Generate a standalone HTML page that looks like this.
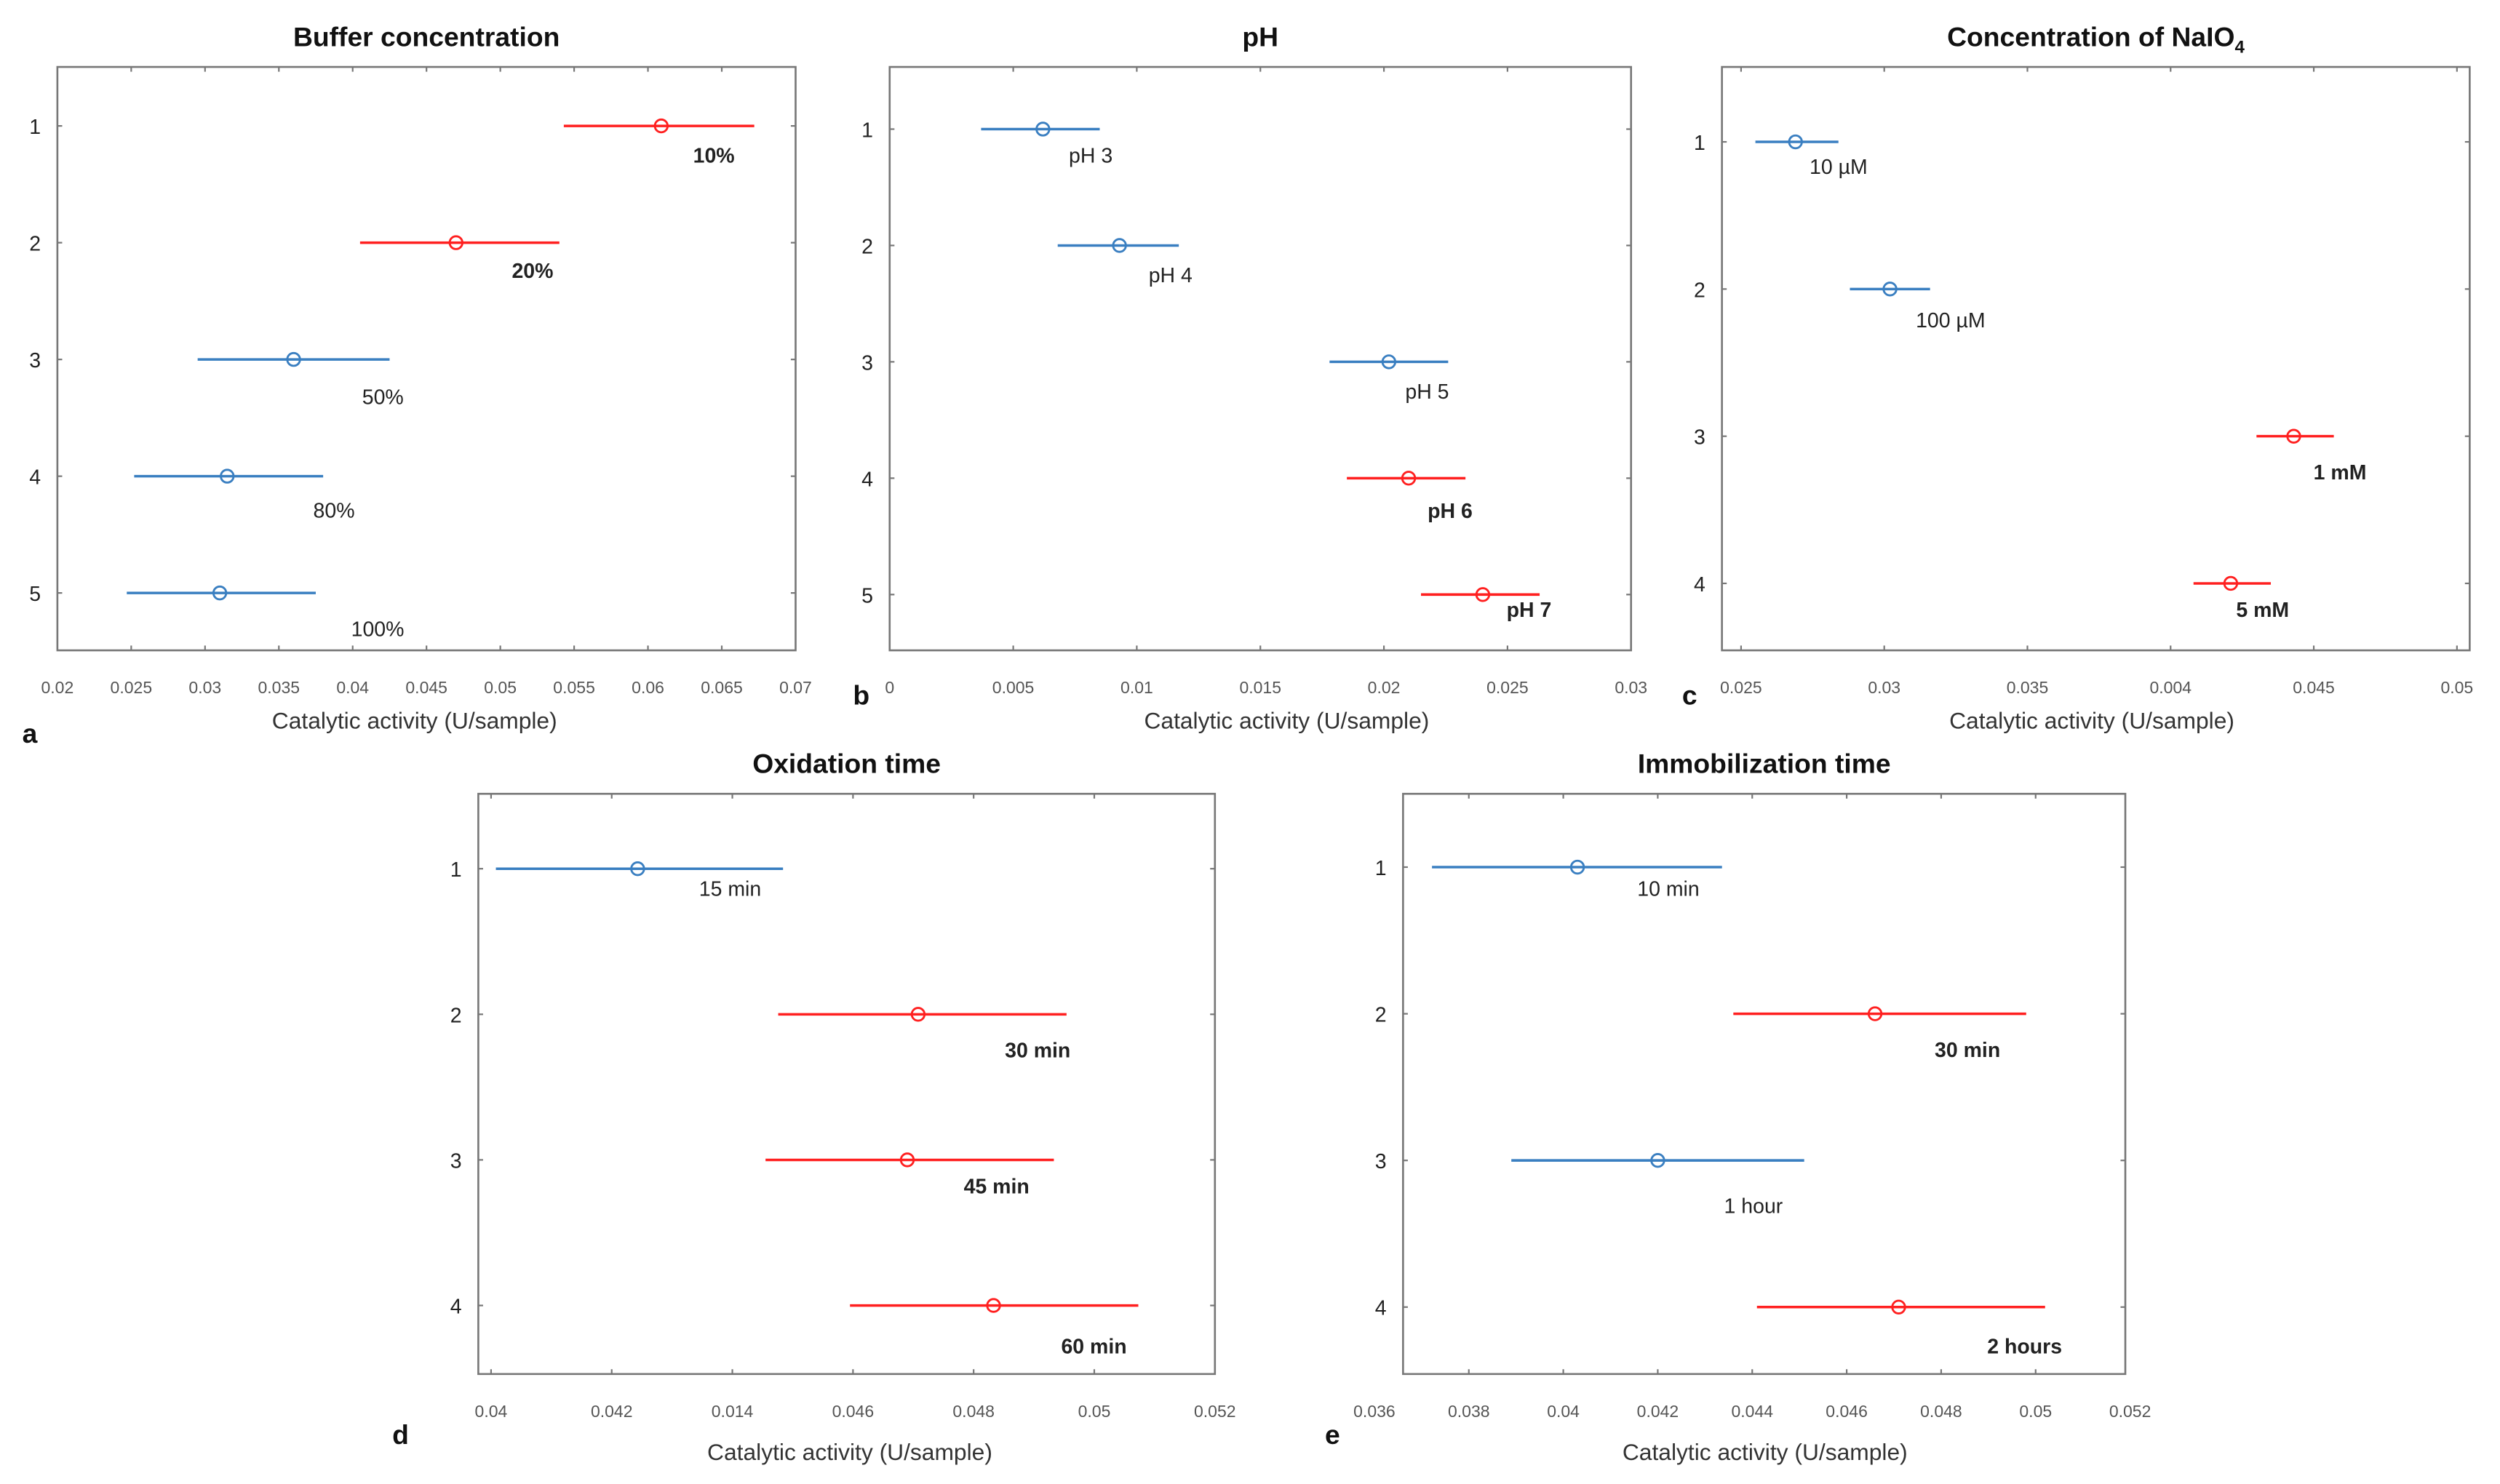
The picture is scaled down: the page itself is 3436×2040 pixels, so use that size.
<!DOCTYPE html>
<html><head><meta charset="utf-8"><style>
html,body{margin:0;padding:0;background:#fff;}
svg{display:block;font-family:"Liberation Sans",sans-serif;}
</style></head><body>
<svg id="chart" width="3436" height="2040" viewBox="0 0 1568 931" preserveAspectRatio="none" xmlns="http://www.w3.org/2000/svg"></svg>
<script>
// Panel a
const aCats=["1","2","3","4","5"];
const aMean=[0.0609,0.047,0.036,0.0315,0.031];
const aLo=[0.0543,0.0405,0.0295,0.0252,0.0247];
const aHi=[0.0672,0.054,0.0425,0.038,0.0375];
const aLabels=["10%","20%","50%","80%","100%"];
const aRed=[true,true,false,false,false];
const aTicks=["0.02","0.025","0.03","0.035","0.04","0.045","0.05","0.055","0.06","0.065","0.07"];
// Panel b
const bCats=["1","2","3","4","5"];
const bMean=[0.0062,0.0093,0.0202,0.021,0.024];
const bLo=[0.0037,0.0068,0.0178,0.0185,0.0215];
const bHi=[0.0085,0.0117,0.0226,0.0233,0.0263];
const bLabels=["pH 3","pH 4","pH 5","pH 6","pH 7"];
const bRed=[false,false,false,true,true];
const bTicks=["0","0.005","0.01","0.015","0.02","0.025","0.03"];
// Panel c
const cCats=["1","2","3","4"];
const cMean=[0.0269,0.0302,0.0443,0.0421];
const cLo=[0.0255,0.0288,0.043,0.0408];
const cHi=[0.0284,0.0316,0.0457,0.0435];
const cLabels=["10 µM","100 µM","1 mM","5 mM"];
const cRed=[false,false,true,true];
const cTicks=["0.025","0.03","0.035","0.004","0.045","0.05"];
// Panel d
const dCats=["1","2","3","4"];
const dMean=[0.04243,0.04708,0.0469,0.04833];
const dLo=[0.04008,0.04476,0.04455,0.04595];
const dHi=[0.04484,0.04954,0.04933,0.05073];
const dLabels=["15 min","30 min","45 min","60 min"];
const dRed=[false,true,true,true];
const dTicks=["0.04","0.042","0.014","0.046","0.048","0.05","0.052"];
// Panel e
const eCats=["1","2","3","4"];
const eMean=[0.0403,0.0466,0.0420,0.0471];
const eLo=[0.03722,0.0436,0.0389,0.0441];
const eHi=[0.04336,0.0498,0.0451,0.0502];
const eLabels=["10 min","30 min","1 hour","2 hours"];
const eRed=[false,true,false,true];
const eTicks=["0.036","0.038","0.04","0.042","0.044","0.046","0.048","0.05","0.052"];

const NS="http://www.w3.org/2000/svg";
const svg=document.getElementById('chart');
function mk(tag,attrs,parent,text){const e=document.createElementNS(NS,tag);for(const k in attrs)e.setAttribute(k,attrs[k]);if(text!==undefined)e.textContent=text;(parent||svg).appendChild(e);return e;}

function panel(cfg){
  const g=mk('g',{});
  
  
  const xs=v=>cfg.x0px+(v-cfg.xmin)/(cfg.xmax-cfg.xmin)*(cfg.x1px-cfg.x0px);
  const ys=i=>cfg.yFirst+i*(cfg.yLast-cfg.yFirst)/(cfg.cats.length-1);
  const t=mk('text',{x:(cfg.L+cfg.R)/2,y:cfg.T-13,'text-anchor':'middle','font-size':17,'font-weight':'bold',fill:'#111'},g,cfg.title);
  
  
  if(cfg.sub){mk('tspan',{'font-size':11,dy:4},t,cfg.sub);}
  const f=mk('rect',{x:cfg.L,y:cfg.T,width:cfg.R-cfg.L,height:cfg.B-cfg.T,fill:'none',stroke:'#777','stroke-width':1.2},g);
  
  
  cfg.ticks.forEach((lab,i)=>{
    const v=cfg.xmin+i*(cfg.xmax-cfg.xmin)/(cfg.ticks.length-1);
    const x=xs(v);
    if(x>cfg.L+1&&x<cfg.R-1){mk('line',{x1:x,x2:x,y1:cfg.B,y2:cfg.B-3,stroke:'#777'},g);mk('line',{x1:x,x2:x,y1:cfg.T,y2:cfg.T+3,stroke:'#777'},g);}
    const tl=mk('text',{x:x,y:cfg.B+27,'text-anchor':'middle','font-size':10.5,fill:'#555'},g,lab);
    
    
  });
  cfg.cats.forEach((c,i)=>{
    const y=ys(i);
    mk('line',{x1:cfg.L,x2:cfg.L+3,y1:y,y2:y,stroke:'#777'},g);
    mk('line',{x1:cfg.R,x2:cfg.R-3,y1:y,y2:y,stroke:'#777'},g);
    const yl=mk('text',{x:cfg.L-14,y:y+5,'text-anchor':'middle','font-size':13,fill:'#222'},g,c);
    
    
    const col=cfg.red[i]?'#ff2020':'#3a7fc1';
    const ln=mk('line',{x1:xs(cfg.lo[i]),x2:xs(cfg.hi[i]),y1:y,y2:y,stroke:col,'stroke-width':1.6},g);
    
    
    const pt=mk('circle',{cx:xs(cfg.mean[i]),cy:y,r:4,fill:'none',stroke:col,'stroke-width':1.3},g);
    
    
    const lb=mk('text',{x:xs(cfg.mean[i])+cfg.lblDx[i],y:y+cfg.lblDy[i]+5,'text-anchor':'middle','font-size':13,'font-weight':cfg.red[i]?'bold':'normal',fill:'#222'},g,cfg.labels[i]);
    
    
  });
  const ax=mk('text',{x:cfg.axX,y:cfg.axY,'text-anchor':'middle','font-size':14.5,fill:'#333'},g,'Catalytic activity (U/sample)');
  
  
  const le=mk('text',{x:cfg.letX,y:cfg.letY,'font-size':17,'font-weight':'bold',fill:'#111'},g,cfg.id);
  
  
}

panel({id:'a',title:'Buffer concentration',L:36,R:499,T:42,B:408,x0px:36,x1px:499,xmin:0.02,xmax:0.07,
  yFirst:79,yLast:372,cats:aCats,mean:aMean,lo:aLo,hi:aHi,labels:aLabels,red:aRed,ticks:aTicks,
  lblDx:[33,48,56,67,99],lblDy:[18,17,23,21,22],axX:260,axY:457,letX:14,letY:466});
panel({id:'b',title:'pH',L:558,R:1023,T:42,B:408,x0px:558,x1px:1023,xmin:0,xmax:0.03,
  yFirst:81,yLast:373,cats:bCats,mean:bMean,lo:bLo,hi:bHi,labels:bLabels,red:bRed,ticks:bTicks,
  lblDx:[30,32,24,26,29],lblDy:[16,18,18,20,9],axX:807,axY:457,letX:535,letY:442});
panel({id:'c',title:'Concentration of NaIO',sub:'4',L:1080,R:1549,T:42,B:408,x0px:1092,x1px:1541,xmin:0.025,xmax:0.05,
  yFirst:89,yLast:366,cats:cCats,mean:cMean,lo:cLo,hi:cHi,labels:cLabels,red:cRed,ticks:cTicks,
  lblDx:[27,38,29,20],lblDy:[15,19,22,16],axX:1312,axY:457,letX:1055,letY:442});
panel({id:'d',title:'Oxidation time',L:300,R:762,T:498,B:862,x0px:308,x1px:762,xmin:0.04,xmax:0.052,
  yFirst:545,yLast:819,cats:dCats,mean:dMean,lo:dLo,hi:dHi,labels:dLabels,red:dRed,ticks:dTicks,
  lblDx:[58,75,56,63],lblDy:[12,22,16,25],axX:533,axY:916,letX:246,letY:906});
panel({id:'e',title:'Immobilization time',L:880,R:1333,T:498,B:862,x0px:862,x1px:1336,xmin:0.036,xmax:0.052,
  yFirst:544,yLast:820,cats:eCats,mean:eMean,lo:eLo,hi:eHi,labels:eLabels,red:eRed,ticks:eTicks,
  lblDx:[57,58,60,79],lblDy:[13,22,28,24],axX:1107,axY:916,letX:831,letY:906});
</script>
</body></html>
